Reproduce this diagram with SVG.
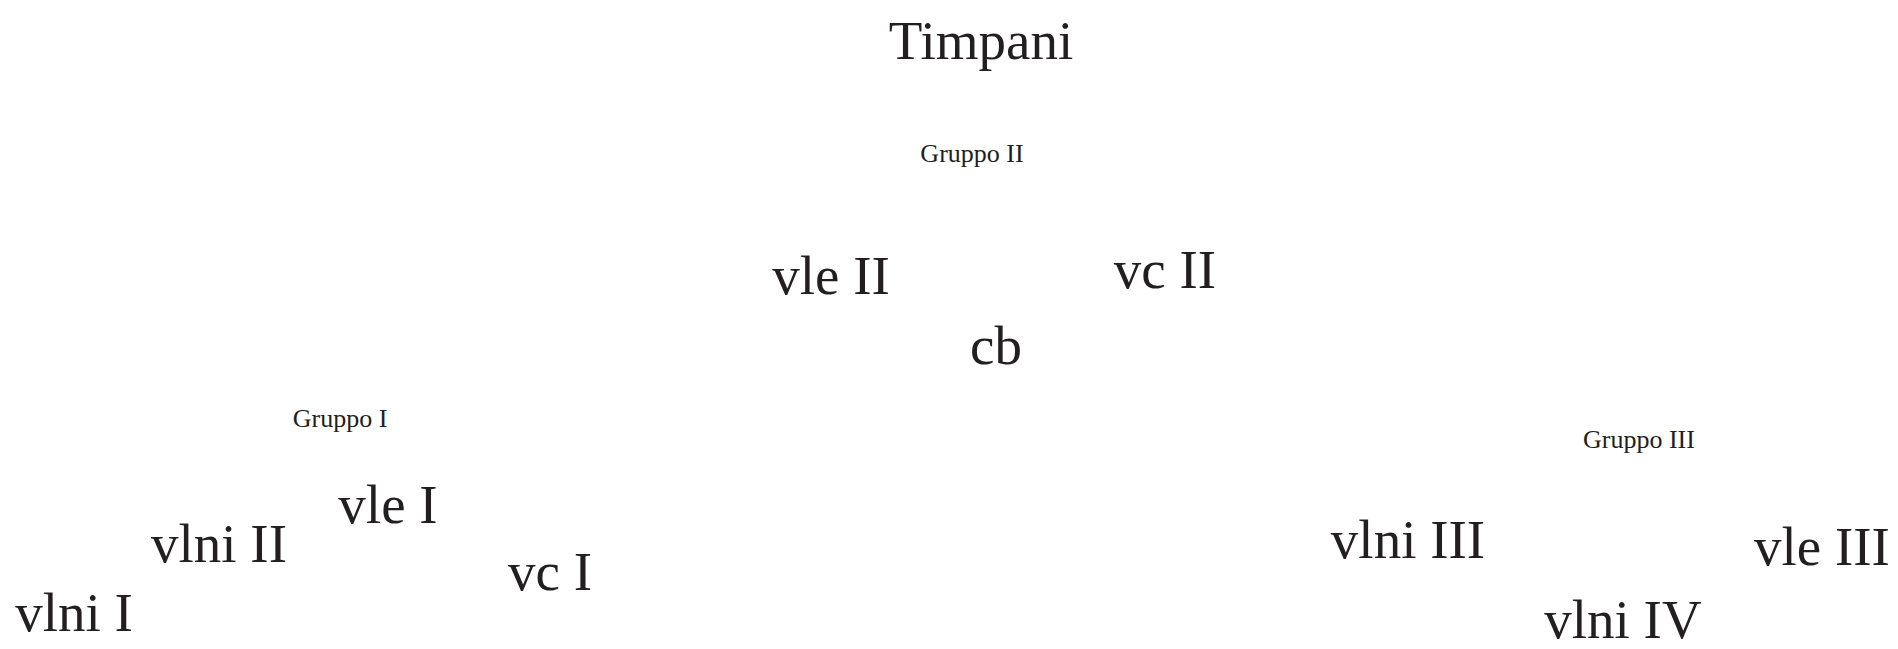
<svg xmlns="http://www.w3.org/2000/svg" width="1898" height="649" viewBox="0 0 1898 649">
<style>
text{font-family:"Liberation Serif","Times New Roman",serif;fill:#231f20;text-anchor:middle}
.big{font-size:55px}
.grp{font-size:26px}
</style>
<rect width="1898" height="649" fill="#ffffff"/>
<g id="timpani"><text class="big" x="981" y="59">Timpani</text></g>
<g id="gruppo2-label"><text class="grp" x="972" y="162">Gruppo II</text></g>
<g id="vle2"><text class="big" x="831" y="294">vle II</text></g>
<g id="vc2"><text class="big" x="1165" y="288">vc II</text></g>
<g id="cb"><text class="big" x="996" y="364">cb</text></g>
<g id="gruppo1-label"><text class="grp" x="340" y="427">Gruppo I</text></g>
<g id="vle1"><text class="big" x="388" y="523">vle I</text></g>
<g id="vlni2"><text class="big" x="219" y="562">vlni II</text></g>
<g id="vc1"><text class="big" x="550" y="590">vc I</text></g>
<g id="vlni1"><text class="big" x="74" y="631">vlni I</text></g>
<g id="gruppo3-label"><text class="grp" x="1639" y="448">Gruppo III</text></g>
<g id="vlni3"><text class="big" x="1408" y="558">vlni III</text></g>
<g id="vle3"><text class="big" x="1822" y="565">vle III</text></g>
<g id="vlni4"><text class="big" x="1623" y="638">vlni IV</text></g>
<g id="connectors"></g>
</svg>
